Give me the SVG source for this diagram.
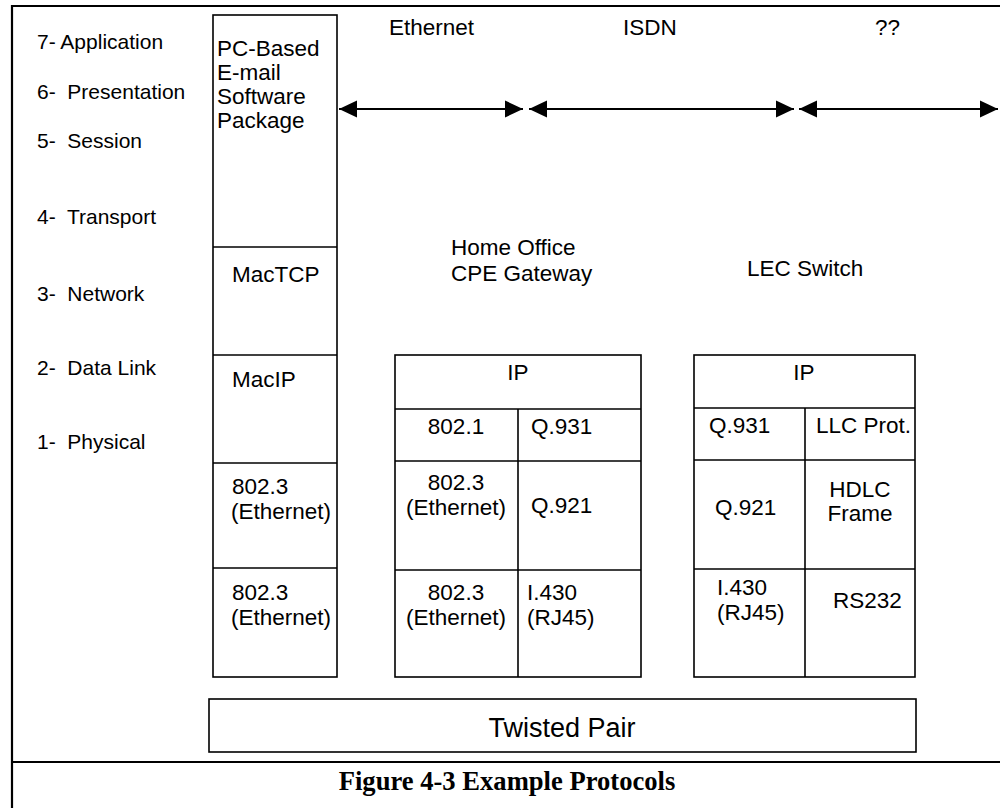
<svg xmlns="http://www.w3.org/2000/svg" width="1000" height="808" viewBox="0 0 1000 808">
  <style>
    .t { font-family: "Liberation Sans", Arial, sans-serif; font-size: 22.5px; fill: #000; white-space: pre; }
    .lay { font-size: 21px; }
    .mid { text-anchor: middle; }
    .box { fill: #fff; stroke: #000; stroke-width: 1.6; }
    .ln { stroke: #000; stroke-width: 1.6; fill: none; }
    .frame { stroke: #000; stroke-width: 2.2; fill: none; }
    .arr { stroke: #000; stroke-width: 2; fill: none; marker-start: url(#headL); marker-end: url(#headR); }
    .cap { font-family: "Liberation Serif", "Times New Roman", serif; font-weight: bold; font-size: 26.6px; text-anchor: middle; }
  </style>
  <defs>
    <marker id="headR" markerUnits="userSpaceOnUse" markerWidth="18" markerHeight="18" viewBox="0 0 18 18" refX="18" refY="9" orient="auto">
      <path d="M0,0.5 L18,9 L0,17.5 Z" fill="#000"/>
    </marker>
    <marker id="headL" markerUnits="userSpaceOnUse" markerWidth="18" markerHeight="18" viewBox="0 0 18 18" refX="0" refY="9" orient="auto">
      <path d="M18,0.5 L0,9 L18,17.5 Z" fill="#000"/>
    </marker>
  </defs>

  <!-- page frame and caption rule -->
  <g id="frame">
    <line class="frame" x1="11" y1="6" x2="1000" y2="6"/>
    <line class="frame" x1="12" y1="5" x2="12" y2="808"/>
    <line class="frame" x1="11" y1="762" x2="1000" y2="762"/>
  </g>

  <!-- OSI layer labels -->
  <g id="layers">
    <text class="t lay" x="37" y="49">7- Application</text>
    <text class="t lay" x="37" y="99">6-  Presentation</text>
    <text class="t lay" x="37" y="148">5-  Session</text>
    <text class="t lay" x="37" y="224">4-  Transport</text>
    <text class="t lay" x="37" y="301">3-  Network</text>
    <text class="t lay" x="37" y="375">2-  Data Link</text>
    <text class="t lay" x="37" y="449">1-  Physical</text>
  </g>

  <!-- link labels -->
  <g id="link-labels">
    <text class="t" x="389" y="35">Ethernet</text>
    <text class="t" x="623" y="35">ISDN</text>
    <text class="t" x="875" y="35">??</text>
  </g>

  <!-- PC protocol stack -->
  <g id="pc-stack">
    <rect class="box" x="213" y="15" width="124" height="662"/>
    <line class="ln" x1="213" y1="247" x2="337" y2="247"/>
    <line class="ln" x1="213" y1="355" x2="337" y2="355"/>
    <line class="ln" x1="213" y1="463" x2="337" y2="463"/>
    <line class="ln" x1="213" y1="568" x2="337" y2="568"/>
    <text class="t" x="217" y="56">PC-Based</text>
    <text class="t" x="217" y="80">E-mail</text>
    <text class="t" x="217" y="104">Software</text>
    <text class="t" x="217" y="128">Package</text>
    <text class="t" x="232" y="282">MacTCP</text>
    <text class="t" x="232" y="387">MacIP</text>
    <text class="t" x="232" y="494">802.3</text>
    <text class="t" x="231" y="519">(Ethernet)</text>
    <text class="t" x="232" y="600">802.3</text>
    <text class="t" x="231" y="625">(Ethernet)</text>
  </g>

  <!-- Home office CPE gateway -->
  <g id="cpe-gateway">
    <text class="t" x="451" y="255">Home Office</text>
    <text class="t" x="451" y="281">CPE Gateway</text>
    <rect class="box" x="395" y="355" width="246" height="322"/>
    <line class="ln" x1="395" y1="409" x2="641" y2="409"/>
    <line class="ln" x1="395" y1="461" x2="641" y2="461"/>
    <line class="ln" x1="395" y1="570" x2="641" y2="570"/>
    <line class="ln" x1="518" y1="409" x2="518" y2="677"/>
    <text class="t mid" x="518" y="380">IP</text>
    <text class="t mid" x="456" y="434">802.1</text>
    <text class="t" x="531" y="434">Q.931</text>
    <text class="t mid" x="456" y="490">802.3</text>
    <text class="t mid" x="456" y="515">(Ethernet)</text>
    <text class="t" x="531" y="513">Q.921</text>
    <text class="t mid" x="456" y="600">802.3</text>
    <text class="t mid" x="456" y="625">(Ethernet)</text>
    <text class="t" x="527" y="600">I.430</text>
    <text class="t" x="527" y="625">(RJ45)</text>
  </g>

  <!-- LEC switch -->
  <g id="lec-switch">
    <text class="t" x="747" y="276">LEC Switch</text>
    <rect class="box" x="694" y="355" width="221" height="322"/>
    <line class="ln" x1="694" y1="408" x2="915" y2="408"/>
    <line class="ln" x1="694" y1="460" x2="915" y2="460"/>
    <line class="ln" x1="694" y1="569" x2="915" y2="569"/>
    <line class="ln" x1="805" y1="408" x2="805" y2="677"/>
    <text class="t mid" x="804" y="380">IP</text>
    <text class="t" x="709" y="433">Q.931</text>
    <text class="t" x="816" y="433">LLC Prot.</text>
    <text class="t" x="715" y="515">Q.921</text>
    <text class="t mid" x="860" y="497">HDLC</text>
    <text class="t mid" x="860" y="521">Frame</text>
    <text class="t" x="717" y="595">I.430</text>
    <text class="t" x="717" y="620">(RJ45)</text>
    <text class="t" x="833" y="608">RS232</text>
  </g>

  <!-- shared medium -->
  <g id="twisted-pair">
    <rect class="box" x="209" y="699" width="707" height="53"/>
    <text class="t mid" x="562" y="737" style="font-size:27px">Twisted Pair</text>
  </g>

  <!-- link spans -->
  <g id="connectors">
    <line class="arr" x1="339" y1="109" x2="523" y2="109"/>
    <line class="arr" x1="529" y1="109" x2="794" y2="109"/>
    <line class="arr" x1="799" y1="109" x2="998" y2="109"/>
  </g>

  <text class="cap" x="507" y="790">Figure 4-3 Example Protocols</text>
</svg>
